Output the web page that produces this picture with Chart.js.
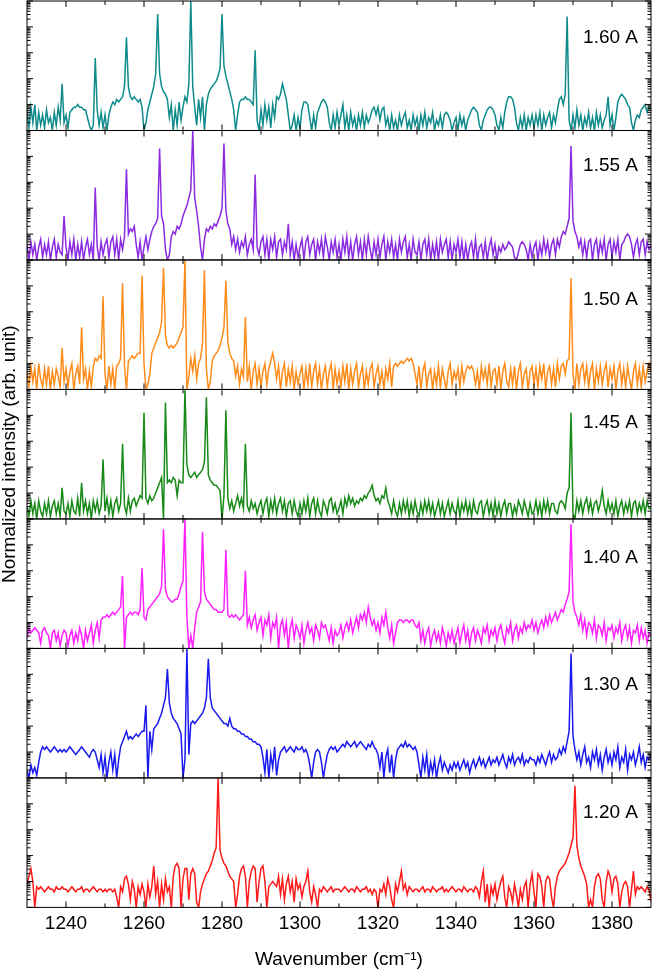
<!DOCTYPE html>
<html>
<head>
<meta charset="utf-8">
<script src="https://cdn.jsdelivr.net/npm/chart.js@4.4.1/dist/chart.umd.min.js"></script>
<style>
html,body{margin:0;padding:0;background:#fff;}
#wrap{width:652px;height:972px;}
</style>
</head>
<body>
<div id="wrap"><canvas id="c" width="652" height="972"></canvas></div>
<script>
// ---------- DATA ----------
// sample grid: wavenumber = wnStart + wnStep * index
const wnStart = 1230;
const wnStep = 0.5;
const panelLabels = ['1.60 A', '1.55 A', '1.50 A', '1.45 A', '1.40 A', '1.30 A', '1.20 A'];
const xTickValues = [1240, 1260, 1280, 1300, 1320, 1340, 1360, 1380];
const xMinorTickValues = [1250, 1270, 1290, 1310, 1330, 1350, 1370];
const yDecades = [1e-5, 1e-4, 1e-3, 1e-2, 1e-1, 1];
const xTitle = 'Wavenumber (cm\u207B\u00B9)';
const yTitle = 'Normalized intensity (arb. unit)';

// intensities, in tenths of a decade above 1e-5 (50 = 1)
const i160 = [
8,1,9,3,10,0,7,2,6,1,8,3,5,0,7,2,9,4,18,3,
6,1,7,8,9,9,10,9,9,8,8,5,2,0,2,28,8,2,7,1,
6,0,6,9,11,10,12,11,12,13,17,36,17,13,12,13,12,11,12,9,
0,3,8,11,14,17,22,45,22,17,15,14,12,5,10,0,8,2,11,4,
9,13,11,18,50,17,9,2,12,5,13,0,10,14,16,17,18,19,21,24,
45,25,21,18,15,12,8,0,6,11,12,12,13,12,12,11,10,31,4,0,
8,2,10,4,9,1,10,5,13,12,14,18,15,12,6,0,2,6,0,5,
1,8,11,11,10,5,0,6,1,7,9,11,12,11,9,3,0,6,1,7,
2,6,10,1,6,0,7,2,5,0,6,2,7,1,6,3,5,8,9,6,
9,4,8,9,2,5,0,6,1,4,0,6,2,5,7,1,4,0,6,2,
5,0,6,2,7,1,5,3,7,0,4,2,6,1,6,7,6,4,0,3,
5,0,6,2,5,0,4,6,8,9,8,7,2,0,4,6,8,9,9,8,
6,2,0,5,1,7,11,13,13,12,9,3,0,5,1,6,0,5,2,6,
1,6,2,7,0,6,2,5,7,1,6,3,8,12,13,10,14,44,4,0,
6,1,8,2,6,0,5,2,7,1,5,0,7,2,6,1,4,6,13,2,
6,0,5,11,13,14,13,12,10,9,3,0,4,6,5,8,9,10,7,9,
8];
const i155 = [
6,0,7,2,6,0,5,8,1,6,2,7,0,5,8,1,6,3,2,17,
5,0,7,2,8,0,6,1,7,0,5,8,2,6,0,28,5,0,7,2,
6,8,1,7,9,2,8,0,8,4,9,35,10,12,11,13,6,1,7,0,
5,9,4,8,11,13,14,16,43,17,14,4,0,2,9,11,10,13,12,14,
17,19,21,24,27,50,24,19,13,5,0,8,12,11,13,12,14,13,15,17,
20,45,19,14,12,6,9,4,8,3,7,5,9,2,6,8,4,33,5,2,
7,9,2,8,0,8,4,9,1,7,8,2,7,4,14,2,7,0,6,1,
5,8,0,7,9,2,6,8,0,7,3,8,1,9,5,0,7,3,8,1,
6,0,8,3,9,1,7,0,6,9,2,7,0,8,2,9,4,0,7,2,
8,1,6,9,0,7,3,8,1,6,0,8,3,7,9,1,6,0,8,3,
2,7,0,6,8,2,8,0,6,1,7,0,8,3,6,8,1,7,0,6,
3,8,1,7,0,6,0,5,7,1,8,0,5,6,1,7,0,5,8,2,
6,0,5,3,6,4,5,7,6,5,1,0,3,6,7,6,4,0,6,1,
5,7,0,6,2,8,3,7,1,6,8,2,8,5,9,11,10,13,16,44,
15,11,9,5,8,2,7,1,7,8,0,6,8,1,7,3,8,0,6,8,
1,7,3,8,0,6,7,9,10,9,6,1,6,8,2,7,8,2,7,4,
6];
const i150 = [
7,1,9,3,8,0,10,4,1,8,2,9,0,7,2,8,5,1,16,3,
8,1,7,10,0,6,9,2,24,4,8,0,7,1,9,12,11,13,12,36,
6,0,9,2,8,0,9,10,12,41,9,0,11,12,13,12,13,14,14,44,
10,0,2,6,14,16,18,20,22,26,47,21,17,16,17,16,17,18,20,22,
24,50,0,5,12,7,13,4,10,12,18,46,8,0,3,11,13,14,15,17,
20,24,42,18,14,12,11,5,9,2,8,5,28,3,9,0,7,10,2,8,
1,7,10,2,8,11,14,10,4,9,0,7,10,1,8,3,9,0,7,2,
6,9,0,8,2,10,1,7,10,2,8,0,6,9,1,7,10,0,8,2,
7,1,9,3,10,0,8,2,7,10,1,6,9,0,7,2,8,10,1,6,
9,2,7,0,8,4,10,1,9,10,9,10,11,10,11,12,11,12,10,6,
2,9,0,7,10,1,6,8,0,7,2,9,1,8,4,0,7,10,2,7,
4,8,1,9,3,7,9,8,9,7,2,7,0,9,4,8,2,10,1,7,
8,2,9,0,7,10,3,1,8,2,9,0,7,10,1,6,8,0,7,9,
2,8,1,9,4,10,0,7,9,2,8,1,10,4,9,10,6,11,12,43,
6,0,10,2,8,10,3,9,1,7,10,0,8,3,9,2,7,10,1,8,
4,9,0,7,10,2,8,1,9,4,0,7,10,2,8,1,9,3,7,10,
7];
const i145 = [
5,1,7,2,6,0,7,3,1,6,2,7,1,5,7,2,6,1,12,3,
2,6,1,7,3,2,8,1,14,3,7,2,6,0,7,3,7,2,5,23,
3,8,2,7,1,6,8,3,6,29,5,2,8,3,7,8,5,7,9,8,
41,8,6,9,7,8,10,12,14,16,0,45,14,15,14,16,15,9,15,14,
14,50,21,17,16,17,18,16,17,18,19,22,47,17,15,14,13,13,12,11,
0,9,42,8,4,7,3,6,9,5,8,4,29,5,3,7,4,6,2,5,
7,2,6,8,1,7,3,8,2,6,8,3,7,1,6,7,2,7,3,1,
6,2,7,3,8,1,6,8,2,7,3,1,7,5,2,7,8,3,6,2,
4,7,2,8,5,9,6,8,5,7,6,8,7,9,8,10,11,13,9,7,
8,6,9,8,12,7,5,2,7,3,1,6,2,7,3,7,1,6,2,7,
3,1,6,2,7,3,7,2,6,1,4,7,2,6,1,4,7,2,6,3,
2,7,1,6,3,7,2,6,1,7,3,2,6,7,1,5,7,2,6,1,
7,2,6,1,5,7,2,6,6,1,5,2,7,5,2,7,4,1,6,2,
3,7,2,6,1,7,3,7,2,6,6,3,2,6,7,6,4,10,12,41,
2,0,7,3,7,2,6,8,3,7,2,6,7,3,6,11,5,2,7,3,
6,2,7,1,5,7,2,6,3,7,1,6,7,2,6,3,7,2,7,4,
4];
const i140 = [
4,8,6,7,8,7,6,2,7,8,6,5,0,6,7,3,6,1,5,7,
6,1,5,7,2,6,3,8,5,0,7,3,6,9,2,7,10,4,11,12,
12,13,12,13,14,13,14,15,16,28,0,12,13,14,13,14,14,13,15,31,
12,11,15,16,17,18,19,20,21,24,46,23,20,19,18,18,19,19,21,24,
26,50,12,0,5,0,8,14,16,18,45,22,19,18,17,16,15,15,14,14,
14,15,38,13,12,13,12,13,12,11,12,13,30,9,12,8,11,13,7,10,
12,5,11,9,13,4,10,8,12,0,9,11,5,10,0,8,11,4,9,7,
4,9,2,7,10,6,8,3,9,7,4,10,8,9,6,3,8,2,7,5,
6,9,4,8,10,7,11,6,9,12,8,13,11,14,10,16,12,9,11,7,
10,6,12,9,14,8,4,9,2,6,10,11,11,10,11,11,10,11,11,9,
8,10,3,7,2,6,8,1,5,7,3,6,2,8,5,1,6,3,7,2,
5,8,2,6,9,3,7,1,6,8,3,7,5,2,8,6,9,3,7,5,
8,3,7,9,5,2,8,6,10,3,7,9,4,8,6,10,7,9,8,11,
7,10,6,9,11,8,12,9,13,10,12,14,11,13,15,14,17,19,22,48,
18,14,12,9,13,7,11,5,10,9,6,11,4,9,8,5,10,3,8,7,
9,4,8,6,10,3,7,9,4,8,2,7,6,9,3,8,4,7,2,6,
5];
const i130 = [
3,0,5,2,4,1,6,10,12,11,12,11,10,11,12,11,10,11,10,11,
10,11,12,11,10,9,10,11,12,11,10,9,8,10,11,10,7,4,9,2,
8,0,6,10,3,9,0,7,12,14,16,18,15,16,15,16,17,16,17,18,
18,28,0,18,11,19,20,21,23,25,28,31,42,29,25,23,22,21,19,17,
0,7,50,9,21,22,21,22,23,24,25,27,31,46,31,27,26,25,24,23,
22,21,21,20,23,20,19,19,18,18,17,17,16,16,15,15,14,14,13,13,
12,8,2,11,0,9,4,12,1,7,10,11,12,10,11,12,11,10,12,11,
11,12,10,11,9,5,0,6,10,11,10,6,0,5,9,11,12,11,12,10,
11,12,13,12,14,13,12,13,14,12,13,14,13,12,11,13,12,14,12,11,
9,4,10,0,8,11,2,9,0,7,11,12,13,12,14,12,13,12,11,12,
10,5,0,8,3,9,0,6,2,7,0,5,8,3,6,4,2,5,3,6,
4,6,3,5,7,4,6,2,5,7,4,6,8,5,7,4,6,8,5,7,
6,8,5,7,9,6,4,8,6,9,5,7,8,6,9,5,7,6,8,7,
7,5,8,6,9,7,5,8,10,6,9,7,8,11,9,12,10,14,18,48,
16,11,7,10,5,9,12,6,8,4,10,7,11,5,9,3,8,11,6,9,
5,10,7,12,4,8,6,11,3,9,7,10,5,8,12,6,9,4,8,7,
9];
const i120 = [
9,12,15,10,0,8,7,8,7,6,7,8,7,7,6,8,7,7,8,7,
7,6,7,8,7,6,7,7,8,6,7,7,6,7,8,7,6,7,7,6,
7,6,7,7,6,7,4,0,8,6,11,12,9,3,10,7,0,8,5,9,
6,0,9,4,8,16,5,10,0,9,3,11,6,8,0,12,16,17,15,0,
11,15,15,3,13,15,13,2,0,6,9,11,13,14,16,18,21,23,50,22,
19,17,16,14,12,11,10,0,5,12,15,16,12,0,10,14,16,15,2,10,
15,16,10,0,8,9,10,9,8,12,5,11,3,9,12,6,10,2,11,7,
9,4,8,10,14,6,2,8,5,0,7,6,8,7,6,7,8,6,7,7,
7,6,7,8,7,6,7,7,6,8,7,6,7,7,8,6,7,5,7,6,
0,7,6,9,5,11,8,3,0,9,6,10,14,7,9,5,8,7,6,7,
7,6,7,8,6,7,7,6,8,7,6,7,7,8,6,7,6,7,8,7,
6,7,7,6,8,7,6,7,7,6,8,7,4,10,14,2,9,0,8,5,
9,3,7,10,12,4,0,8,6,2,9,5,0,7,3,8,10,0,9,13,
6,0,13,12,8,0,10,12,11,4,0,8,12,14,15,16,17,19,21,24,
27,47,24,19,16,14,12,9,0,3,0,8,12,13,11,3,0,10,14,12,
6,11,12,9,0,6,9,10,8,0,7,14,5,8,7,8,7,6,8,7,
2];

const seriesLevels = [i160, i155, i150, i145, i140, i130, i120];

// ---------- STYLE ----------
const colors = ['#0f8b8b', '#8a2be2', '#ff8c1a', '#178a17', '#ff22ff', '#1a1aee', '#ff1a1a'];
const labelBaselines = [42, 41, 45, 39, 44, 41.5, 40];
const FONT = "'Liberation Sans', Arial, Helvetica, sans-serif";

const toIntensity = l => Math.pow(10, l / 10 - 5);

const datasets = seriesLevels.map((lv, p) => ({
  label: panelLabels[p],
  data: lv.map((l, i) => ({ x: wnStart + wnStep * i, y: toIntensity(l) })),
  borderColor: colors[p],
  borderWidth: 1.5,
  pointRadius: 0,
  tension: 0,
  fill: false,
  yAxisID: 'y' + p
}));

const scales = {
  x: {
    type: 'linear', position: 'bottom', min: 1230, max: 1390,
    grid: { display: false, drawTicks: false },
    border: { display: false },
    afterBuildTicks: s => { s.ticks = xTickValues.map(v => ({ value: v })); },
    ticks: { color: '#000', font: { family: FONT, size: 19 }, padding: 5, maxRotation: 0, autoSkip: false,
             callback: v => String(v) },
    title: { display: true, text: xTitle, color: '#000', font: { family: FONT, size: 19 }, padding: { top: 8, bottom: 1 } }
  }
};
// stacked left axes: the last one added ends up on top, so add bottom panel first
for (let p = panelLabels.length - 1; p >= 0; p--) {
  scales['y' + p] = {
    type: 'logarithmic', position: 'left', stack: 'panels', stackWeight: 1,
    min: 1e-5, max: 1,
    grid: { display: false, drawTicks: false },
    border: { display: false },
    ticks: { display: false },
    title: { display: false }
  };
}

const panelPlugin = {
  id: 'panelDecor',
  afterDatasetsDraw(chart) {
    const { ctx, chartArea } = chart;
    const left = chartArea.left, right = chartArea.right;
    const xs = chart.scales.x;
    ctx.save();
    ctx.strokeStyle = '#000';
    ctx.lineWidth = 1;
    const seg = (x1, y1, x2, y2) => { ctx.beginPath(); ctx.moveTo(x1, y1); ctx.lineTo(x2, y2); ctx.stroke(); };
    panelLabels.forEach((lab, p) => {
      const s = chart.scales['y' + p];
      const top = s.top, bottom = s.bottom;
      yDecades.forEach((d, k) => {
        const y = s.getPixelForValue(d);
        seg(left, y, left + 6, y); seg(right - 6, y, right, y);
        if (k < yDecades.length - 1) {
          for (let m = 2; m <= 9; m++) {
            const ym = s.getPixelForValue(d * m);
            seg(left, ym, left + 3.5, ym); seg(right - 3.5, ym, right, ym);
          }
        }
      });
      xTickValues.forEach(v => {
        const x = xs.getPixelForValue(v);
        seg(x, bottom, x, bottom - 6); seg(x, top, x, top + 6);
      });
      xMinorTickValues.forEach(v => {
        const x = xs.getPixelForValue(v);
        seg(x, bottom, x, bottom - 4); seg(x, top, x, top + 4);
      });
      ctx.strokeRect(left, top, right - left, bottom - top);
      ctx.fillStyle = '#000';
      ctx.font = '19px ' + FONT;
      ctx.textAlign = 'right';
      ctx.textBaseline = 'alphabetic';
      ctx.fillText(lab, right - 13, top + labelBaselines[p]);
    });
    ctx.translate(15, (chartArea.top + chartArea.bottom) / 2);
    ctx.rotate(-Math.PI / 2);
    ctx.textAlign = 'center';
    ctx.textBaseline = 'alphabetic';
    ctx.fillStyle = '#000';
    ctx.font = '19px ' + FONT;
    ctx.fillText(yTitle, 0, 0);
    ctx.restore();
  }
};

new Chart(document.getElementById('c'), {
  type: 'line',
  data: { datasets },
  options: {
    responsive: false,
    animation: false,
    devicePixelRatio: 1,
    events: [],
    layout: { padding: { left: 27, right: 1, top: 1, bottom: 0 } },
    plugins: { legend: { display: false }, tooltip: { enabled: false } },
    scales
  },
  plugins: [panelPlugin]
});
</script>
</body>
</html>
